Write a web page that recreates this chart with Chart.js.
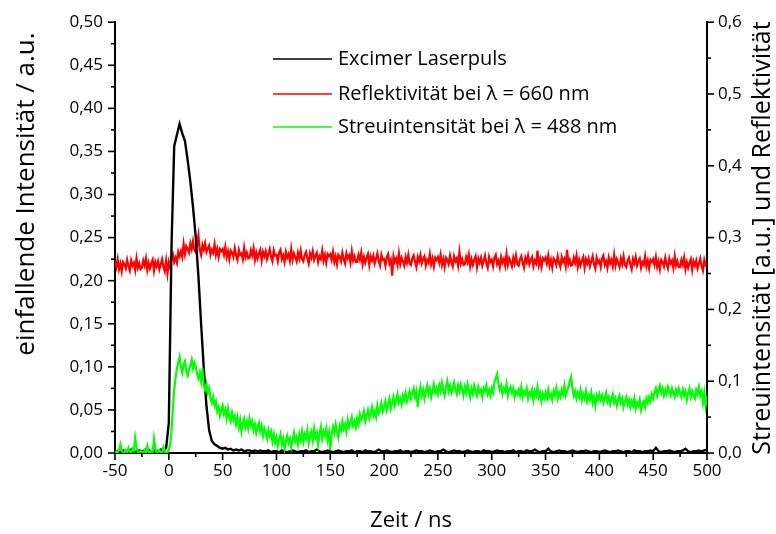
<!DOCTYPE html>
<html>
<head>
<meta charset="utf-8">
<script src="https://cdn.jsdelivr.net/npm/chart.js@4/dist/chart.umd.min.js"></script>
<style>
html,body{margin:0;padding:0;background:#fff;}
#c{display:block;}
</style>
</head>
<body>
<canvas id="c" width="776" height="534"></canvas>
<script>
// ---- data ----
// sample times of the laser pulse trace (ns)
const timeCoarse = [
-50,-47.5,-45,-42.5,-40,-37.5,-35,-32.5,-30,-27.5,
-25,-22.5,-20,-17.5,-15,-12.5,-10,-7.5,-5,-2.5,
0,2.5,5,7.5,10,12.5,15,17.5,20,22.5,
25,27.5,30,32.5,35,37.5,40,42.5,45,47.5,
50,52.5,55,57.5,60,62.5,65,67.5,70,72.5,
75,77.5,80,82.5,85,87.5,90,92.5,95,97.5,
100,102.5,105,107.5,110,112.5,115,117.5,120,122.5,
125,127.5,130,132.5,135,137.5,140,142.5,145,147.5,
150,152.5,155,157.5,160,162.5,165,167.5,170,172.5,
175,177.5,180,182.5,185,187.5,190,192.5,195,197.5,
200,202.5,205,207.5,210,212.5,215,217.5,220,222.5,
225,227.5,230,232.5,235,237.5,240,242.5,245,247.5,
250,252.5,255,257.5,260,262.5,265,267.5,270,272.5,
275,277.5,280,282.5,285,287.5,290,292.5,295,297.5,
300,302.5,305,307.5,310,312.5,315,317.5,320,322.5,
325,327.5,330,332.5,335,337.5,340,342.5,345,347.5,
350,352.5,355,357.5,360,362.5,365,367.5,370,372.5,
375,377.5,380,382.5,385,387.5,390,392.5,395,397.5,
400,402.5,405,407.5,410,412.5,415,417.5,420,422.5,
425,427.5,430,432.5,435,437.5,440,442.5,445,447.5,
450,452.5,455,457.5,460,462.5,465,467.5,470,472.5,
475,477.5,480,482.5,485,487.5,490,492.5,495,497.5,
500
];

// Excimer Laserpuls (left axis, a.u.)
const laserPulse = [
0.001,0.002,0.001,0.003,0.001,0.002,0.004,0.001,0.002,0.003,
0.002,0.003,0.005,0.002,0.001,0.003,0.002,0.004,0.003,0.006,
0.035,0.240,0.356,0.369,0.382,0.371,0.362,0.340,0.315,0.285,
0.251,0.205,0.150,0.098,0.054,0.026,0.014,0.010,0.008,0.006,
0.005,0.006,0.004,0.005,0.003,0.004,0.003,0.004,0.002,0.003,
0.003,0.002,0.003,0.002,0.003,0.002,0.002,0.003,0.001,0.002,
0.002,0.001,0.003,0.002,0.001,0.002,0.003,0.002,0.001,0.002,
0.002,0.003,0.001,0.002,0.002,0.004,0.002,0.001,0.002,0.003,
0.002,0.001,0.002,0.003,0.002,0.001,0.002,0.002,0.003,0.001,
0.002,0.002,0.001,0.003,0.002,0.002,0.001,0.002,0.004,0.002,
0.002,0.003,0.002,0.001,0.002,0.002,0.003,0.001,0.002,0.002,
0.001,0.002,0.003,0.002,0.002,0.001,0.002,0.003,0.002,0.001,
0.002,0.002,0.004,0.002,0.001,0.002,0.003,0.002,0.002,0.001,
0.002,0.003,0.002,0.001,0.002,0.002,0.001,0.003,0.002,0.002,
0.001,0.002,0.003,0.002,0.002,0.001,0.002,0.002,0.003,0.001,
0.002,0.002,0.001,0.003,0.002,0.002,0.004,0.002,0.001,0.002,
0.002,0.005,0.002,0.001,0.002,0.003,0.002,0.002,0.001,0.002,
0.003,0.002,0.001,0.002,0.002,0.003,0.002,0.001,0.002,0.002,
0.001,0.002,0.003,0.002,0.001,0.002,0.002,0.003,0.002,0.001,
0.002,0.002,0.001,0.003,0.002,0.002,0.001,0.002,0.002,0.003,
0.002,0.006,0.002,0.001,0.002,0.002,0.003,0.002,0.001,0.002,
0.002,0.003,0.005,0.002,0.001,0.002,0.002,0.003,0.002,0.003,
0.004
];

// sample times of the reflectivity and scattering traces (ns)
const timeFine = [
-50,-48.75,-47.5,-46.25,-45,-43.75,-42.5,-41.25,-40,-38.75,-37.5,-36.25,-35,-33.75,-32.5,-31.25,-30,-28.75,-27.5,-26.25,
-25,-23.75,-22.5,-21.25,-20,-18.75,-17.5,-16.25,-15,-13.75,-12.5,-11.25,-10,-8.75,-7.5,-6.25,-5,-3.75,-2.5,-1.25,
0,1.25,2.5,3.75,5,6.25,7.5,8.75,10,11.25,12.5,13.75,15,16.25,17.5,18.75,20,21.25,22.5,23.75,
25,26.25,27.5,28.75,30,31.25,32.5,33.75,35,36.25,37.5,38.75,40,41.25,42.5,43.75,45,46.25,47.5,48.75,
50,51.25,52.5,53.75,55,56.25,57.5,58.75,60,61.25,62.5,63.75,65,66.25,67.5,68.75,70,71.25,72.5,73.75,
75,76.25,77.5,78.75,80,81.25,82.5,83.75,85,86.25,87.5,88.75,90,91.25,92.5,93.75,95,96.25,97.5,98.75,
100,101.25,102.5,103.75,105,106.25,107.5,108.75,110,111.25,112.5,113.75,115,116.25,117.5,118.75,120,121.25,122.5,123.75,
125,126.25,127.5,128.75,130,131.25,132.5,133.75,135,136.25,137.5,138.75,140,141.25,142.5,143.75,145,146.25,147.5,148.75,
150,151.25,152.5,153.75,155,156.25,157.5,158.75,160,161.25,162.5,163.75,165,166.25,167.5,168.75,170,171.25,172.5,173.75,
175,176.25,177.5,178.75,180,181.25,182.5,183.75,185,186.25,187.5,188.75,190,191.25,192.5,193.75,195,196.25,197.5,198.75,
200,201.25,202.5,203.75,205,206.25,207.5,208.75,210,211.25,212.5,213.75,215,216.25,217.5,218.75,220,221.25,222.5,223.75,
225,226.25,227.5,228.75,230,231.25,232.5,233.75,235,236.25,237.5,238.75,240,241.25,242.5,243.75,245,246.25,247.5,248.75,
250,251.25,252.5,253.75,255,256.25,257.5,258.75,260,261.25,262.5,263.75,265,266.25,267.5,268.75,270,271.25,272.5,273.75,
275,276.25,277.5,278.75,280,281.25,282.5,283.75,285,286.25,287.5,288.75,290,291.25,292.5,293.75,295,296.25,297.5,298.75,
300,301.25,302.5,303.75,305,306.25,307.5,308.75,310,311.25,312.5,313.75,315,316.25,317.5,318.75,320,321.25,322.5,323.75,
325,326.25,327.5,328.75,330,331.25,332.5,333.75,335,336.25,337.5,338.75,340,341.25,342.5,343.75,345,346.25,347.5,348.75,
350,351.25,352.5,353.75,355,356.25,357.5,358.75,360,361.25,362.5,363.75,365,366.25,367.5,368.75,370,371.25,372.5,373.75,
375,376.25,377.5,378.75,380,381.25,382.5,383.75,385,386.25,387.5,388.75,390,391.25,392.5,393.75,395,396.25,397.5,398.75,
400,401.25,402.5,403.75,405,406.25,407.5,408.75,410,411.25,412.5,413.75,415,416.25,417.5,418.75,420,421.25,422.5,423.75,
425,426.25,427.5,428.75,430,431.25,432.5,433.75,435,436.25,437.5,438.75,440,441.25,442.5,443.75,445,446.25,447.5,448.75,
450,451.25,452.5,453.75,455,456.25,457.5,458.75,460,461.25,462.5,463.75,465,466.25,467.5,468.75,470,471.25,472.5,473.75,
475,476.25,477.5,478.75,480,481.25,482.5,483.75,485,486.25,487.5,488.75,490,491.25,492.5,493.75,495,496.25,497.5,498.75,
500
];

// Reflektivitaet bei 660 nm (right axis)
const reflectivity = [
0.267,0.259,0.270,0.256,0.264,0.253,0.266,0.263,0.257,0.269,0.260,0.254,0.268,0.261,0.265,0.255,0.271,0.258,0.264,0.256,
0.258,0.268,0.261,0.271,0.255,0.265,0.257,0.264,0.269,0.254,0.266,0.260,0.267,0.256,0.263,0.270,0.259,0.253,0.268,0.250,
0.266,0.258,0.272,0.277,0.266,0.272,0.265,0.280,0.274,0.281,0.273,0.291,0.277,0.288,0.284,0.279,0.292,0.284,0.295,0.283,
0.280,0.289,0.303,0.283,0.276,0.290,0.283,0.292,0.280,0.285,0.289,0.276,0.283,0.279,0.291,0.276,0.284,0.273,0.284,0.281,
0.284,0.276,0.287,0.273,0.281,0.270,0.282,0.279,0.273,0.285,0.275,0.269,0.283,0.276,0.278,0.270,0.286,0.273,0.279,0.271,
0.272,0.282,0.275,0.285,0.269,0.279,0.271,0.278,0.283,0.268,0.280,0.274,0.281,0.270,0.277,0.284,0.273,0.267,0.282,0.275,
0.276,0.267,0.279,0.283,0.270,0.275,0.266,0.280,0.272,0.277,0.268,0.284,0.269,0.278,0.273,0.267,0.279,0.271,0.282,0.270,
0.267,0.276,0.280,0.271,0.264,0.278,0.272,0.281,0.269,0.275,0.279,0.266,0.274,0.270,0.282,0.268,0.276,0.265,0.277,0.274,
0.277,0.269,0.280,0.266,0.274,0.263,0.276,0.273,0.267,0.279,0.270,0.264,0.278,0.271,0.275,0.265,0.281,0.268,0.274,0.266,
0.266,0.276,0.269,0.279,0.263,0.273,0.265,0.272,0.277,0.262,0.274,0.268,0.275,0.264,0.271,0.278,0.267,0.261,0.276,0.269,
0.270,0.261,0.273,0.277,0.264,0.269,0.247,0.274,0.266,0.271,0.262,0.278,0.263,0.272,0.267,0.261,0.273,0.265,0.276,0.264,
0.262,0.271,0.275,0.266,0.259,0.273,0.267,0.276,0.264,0.270,0.274,0.261,0.269,0.265,0.277,0.263,0.271,0.260,0.272,0.269,
0.273,0.265,0.276,0.262,0.270,0.259,0.272,0.269,0.263,0.275,0.266,0.260,0.274,0.267,0.271,0.261,0.280,0.264,0.270,0.262,
0.263,0.273,0.266,0.276,0.260,0.270,0.262,0.269,0.274,0.259,0.271,0.265,0.272,0.261,0.268,0.275,0.264,0.258,0.273,0.266,
0.269,0.260,0.272,0.276,0.263,0.268,0.259,0.273,0.265,0.270,0.261,0.277,0.262,0.271,0.266,0.260,0.272,0.264,0.275,0.263,
0.261,0.270,0.274,0.265,0.258,0.272,0.266,0.275,0.263,0.269,0.273,0.260,0.268,0.264,0.282,0.262,0.270,0.259,0.271,0.268,
0.272,0.264,0.275,0.261,0.269,0.258,0.271,0.268,0.262,0.274,0.265,0.259,0.273,0.266,0.270,0.260,0.283,0.263,0.269,0.261,
0.262,0.272,0.265,0.275,0.259,0.269,0.261,0.268,0.273,0.258,0.270,0.264,0.271,0.260,0.267,0.274,0.263,0.257,0.272,0.265,
0.268,0.259,0.271,0.275,0.262,0.267,0.258,0.272,0.264,0.269,0.260,0.276,0.261,0.270,0.265,0.259,0.271,0.263,0.274,0.262,
0.259,0.268,0.272,0.263,0.256,0.270,0.264,0.273,0.261,0.267,0.271,0.258,0.266,0.262,0.274,0.260,0.268,0.257,0.269,0.266,
0.270,0.262,0.273,0.259,0.267,0.256,0.269,0.266,0.260,0.272,0.263,0.257,0.271,0.264,0.268,0.258,0.274,0.261,0.267,0.259,
0.259,0.269,0.262,0.272,0.256,0.266,0.258,0.265,0.270,0.255,0.267,0.261,0.268,0.257,0.264,0.271,0.260,0.254,0.269,0.262,
0.265
];

// Streuintensitaet bei 488 nm (right axis)
const scattering = [
0.000,0.002,0.001,0.005,0.012,0.003,0.000,0.001,0.004,0.000,0.007,0.002,0.000,0.006,0.003,0.021,0.008,0.001,0.000,0.003,
0.002,0.000,0.004,0.001,0.010,0.002,0.000,0.003,0.001,0.020,0.006,0.000,0.002,0.004,0.000,0.001,0.008,0.002,0.000,0.001,
0.004,0.012,0.030,0.062,0.088,0.104,0.118,0.126,0.134,0.120,0.112,0.124,0.128,0.114,0.108,0.116,0.122,0.130,0.118,0.126,
0.120,0.110,0.104,0.112,0.100,0.118,0.094,0.088,0.096,0.084,0.090,0.076,0.070,0.078,0.066,0.072,0.058,0.064,0.052,0.060,
0.066,0.054,0.060,0.048,0.062,0.050,0.044,0.056,0.046,0.052,0.040,0.050,0.036,0.046,0.030,0.042,0.048,0.036,0.044,0.034,
0.048,0.038,0.044,0.032,0.040,0.028,0.036,0.042,0.030,0.038,0.024,0.034,0.028,0.020,0.032,0.024,0.030,0.016,0.026,0.014,
0.022,0.010,0.018,0.026,0.012,0.020,0.006,0.016,0.024,0.014,0.020,0.008,0.018,0.028,0.016,0.022,0.012,0.026,0.018,0.030,
0.016,0.026,0.020,0.032,0.014,0.024,0.030,0.018,0.034,0.022,0.028,0.012,0.026,0.036,0.020,0.030,0.024,0.034,0.018,0.028,
0.004,0.026,0.036,0.028,0.040,0.030,0.022,0.038,0.032,0.044,0.034,0.040,0.030,0.046,0.036,0.042,0.050,0.038,0.044,0.036,
0.048,0.040,0.054,0.046,0.050,0.058,0.044,0.052,0.060,0.048,0.056,0.064,0.052,0.058,0.050,0.066,0.056,0.062,0.070,0.058,
0.064,0.072,0.060,0.068,0.076,0.062,0.070,0.078,0.066,0.074,0.082,0.070,0.076,0.068,0.080,0.074,0.084,0.072,0.078,0.086,
0.076,0.084,0.090,0.078,0.086,0.064,0.082,0.092,0.080,0.088,0.076,0.086,0.094,0.082,0.090,0.078,0.088,0.096,0.084,0.090,
0.082,0.094,0.086,0.098,0.088,0.080,0.092,0.100,0.086,0.094,0.084,0.090,0.098,0.088,0.082,0.094,0.086,0.096,0.090,0.080,
0.092,0.084,0.096,0.088,0.078,0.090,0.082,0.094,0.086,0.080,0.092,0.084,0.088,0.078,0.090,0.086,0.094,0.082,0.088,0.080,
0.090,0.084,0.098,0.104,0.110,0.096,0.088,0.094,0.082,0.090,0.086,0.096,0.080,0.088,0.092,0.084,0.090,0.078,0.086,0.082,
0.088,0.080,0.092,0.078,0.086,0.082,0.090,0.076,0.084,0.080,0.088,0.074,0.086,0.080,0.092,0.078,0.084,0.072,0.082,0.076,
0.084,0.076,0.088,0.078,0.082,0.074,0.086,0.080,0.090,0.076,0.084,0.078,0.088,0.082,0.094,0.080,0.086,0.092,0.100,0.106,
0.090,0.080,0.086,0.076,0.084,0.078,0.088,0.074,0.082,0.076,0.086,0.072,0.080,0.074,0.084,0.070,0.078,0.066,0.080,0.074,
0.082,0.074,0.080,0.070,0.078,0.084,0.072,0.078,0.068,0.076,0.082,0.070,0.076,0.066,0.074,0.080,0.070,0.076,0.064,0.072,
0.078,0.068,0.074,0.064,0.072,0.066,0.076,0.062,0.070,0.066,0.074,0.060,0.068,0.072,0.064,0.076,0.070,0.078,0.072,0.082,
0.076,0.084,0.090,0.080,0.088,0.094,0.084,0.090,0.080,0.088,0.082,0.092,0.086,0.080,0.090,0.084,0.078,0.088,0.082,0.090,
0.084,0.078,0.088,0.080,0.086,0.074,0.084,0.090,0.078,0.086,0.080,0.076,0.088,0.082,0.092,0.080,0.086,0.070,0.084,0.066,
0.080
];

const seriesLabels = ['Excimer Laserpuls', 'Reflektivität bei λ = 660 nm', 'Streuintensität bei λ = 488 nm'];
const xTitle = 'Zeit / ns';
const yLeftTitle = 'einfallende Intensität / a.u.';
const yRightTitle = 'Streuintensität [a.u.] und Reflektivität';

// ---- rendering ----
const FONT = "'Open Sans', sans-serif";
const pts = (times, arr) => times.map((t, i) => ({x: t, y: arr[i]}));

const decorPlugin = {
  id: 'decor',
  afterDraw(chart) {
    const ctx = chart.ctx;
    ctx.save();
    ctx.strokeStyle = '#000';
    ctx.lineWidth = 1.6;
    const drawAxis = (scale, dir) => {
      const vals = scale.ticks.map(t => t.value);
      const all = [];
      vals.forEach((v, i) => {
        all.push([v, 7]);
        if (i < vals.length - 1) all.push([(v + vals[i + 1]) / 2, 4]);
      });
      all.forEach(([v, len]) => {
        const p = scale.getPixelForValue(v);
        ctx.beginPath();
        if (dir === 'bottom') { ctx.moveTo(p, scale.top); ctx.lineTo(p, scale.top + len); }
        if (dir === 'left') { ctx.moveTo(scale.right, p); ctx.lineTo(scale.right - len, p); }
        if (dir === 'right') { ctx.moveTo(scale.left, p); ctx.lineTo(scale.left + len, p); }
        ctx.stroke();
      });
    };
    drawAxis(chart.scales.x, 'bottom');
    drawAxis(chart.scales.y, 'left');
    drawAxis(chart.scales.y2, 'right');

    // vertical axis titles, both reading bottom-to-top
    ctx.fillStyle = '#000';
    ctx.textAlign = 'center';
    ctx.textBaseline = 'middle';
    ctx.font = "26px " + FONT;
    ctx.save();
    ctx.translate(27, 194);
    ctx.rotate(-Math.PI / 2);
    ctx.fillText(yLeftTitle, 0, 0);
    ctx.restore();
    ctx.font = "25px " + FONT;
    ctx.save();
    ctx.translate(763, 238);
    ctx.rotate(-Math.PI / 2);
    ctx.fillText(yRightTitle, 0, 0);
    ctx.restore();

    // legend
    const rows = [59, 94, 127];
    ctx.font = "20px " + FONT;
    ctx.textAlign = 'left';
    ctx.textBaseline = 'middle';
    chart.data.datasets.forEach((ds, i) => {
      ctx.strokeStyle = ds.borderColor;
      ctx.lineWidth = 1.6;
      ctx.beginPath();
      ctx.moveTo(273, rows[i]);
      ctx.lineTo(332, rows[i]);
      ctx.stroke();
      ctx.fillText(ds.label, 338, rows[i]);
    });
    ctx.restore();
  }
};

const fmt = d => v => v.toFixed(d).replace('.', ',');

new Chart(document.getElementById('c'), {
  type: 'line',
  data: {
    datasets: [
      {label: seriesLabels[0], data: pts(timeCoarse, laserPulse), borderColor: '#000000', borderWidth: 2.4, pointRadius: 0, yAxisID: 'y', order: 1},
      {label: seriesLabels[1], data: pts(timeFine, reflectivity), borderColor: '#ff0000', borderWidth: 2.2, pointRadius: 0, yAxisID: 'y2', order: 2},
      {label: seriesLabels[2], data: pts(timeFine, scattering), borderColor: '#00ff00', borderWidth: 2.2, pointRadius: 0, yAxisID: 'y2', order: 0}
    ]
  },
  options: {
    responsive: false,
    animation: false,
    layout: {padding: {top: 15, left: 0, right: 0, bottom: 0}},
    plugins: {legend: {display: false}, tooltip: {enabled: false}},
    elements: {line: {tension: 0}},
    scales: {
      x: {
        type: 'linear', position: 'bottom', min: -50, max: 500,
        grid: {display: false, drawTicks: false},
        border: {display: true, color: '#000', width: 2},
        ticks: {stepSize: 50, padding: 8, color: '#000', font: {family: FONT, size: 17}, maxRotation: 0, autoSkip: false},
        title: {display: true, text: xTitle, color: '#000', font: {family: FONT, size: 22}, padding: {top: 4, bottom: 0}},
        afterFit: s => { s.height = 81; }
      },
      y: {
        type: 'linear', position: 'left', min: 0, max: 0.5,
        grid: {display: false, drawTicks: false},
        border: {display: true, color: '#000', width: 2},
        ticks: {stepSize: 0.05, padding: 12, color: '#000', font: {family: FONT, size: 17}, callback: fmt(2)},
        title: {display: false},
        afterFit: s => { s.width = 115; }
      },
      y2: {
        type: 'linear', position: 'right', min: 0, max: 0.6,
        grid: {display: false, drawTicks: false},
        border: {display: true, color: '#000', width: 2},
        ticks: {stepSize: 0.1, padding: 11, color: '#000', font: {family: FONT, size: 17}, callback: fmt(1)},
        title: {display: false},
        afterFit: s => { s.width = 69; }
      }
    }
  },
  plugins: [decorPlugin]
});
</script>
</body>
</html>
